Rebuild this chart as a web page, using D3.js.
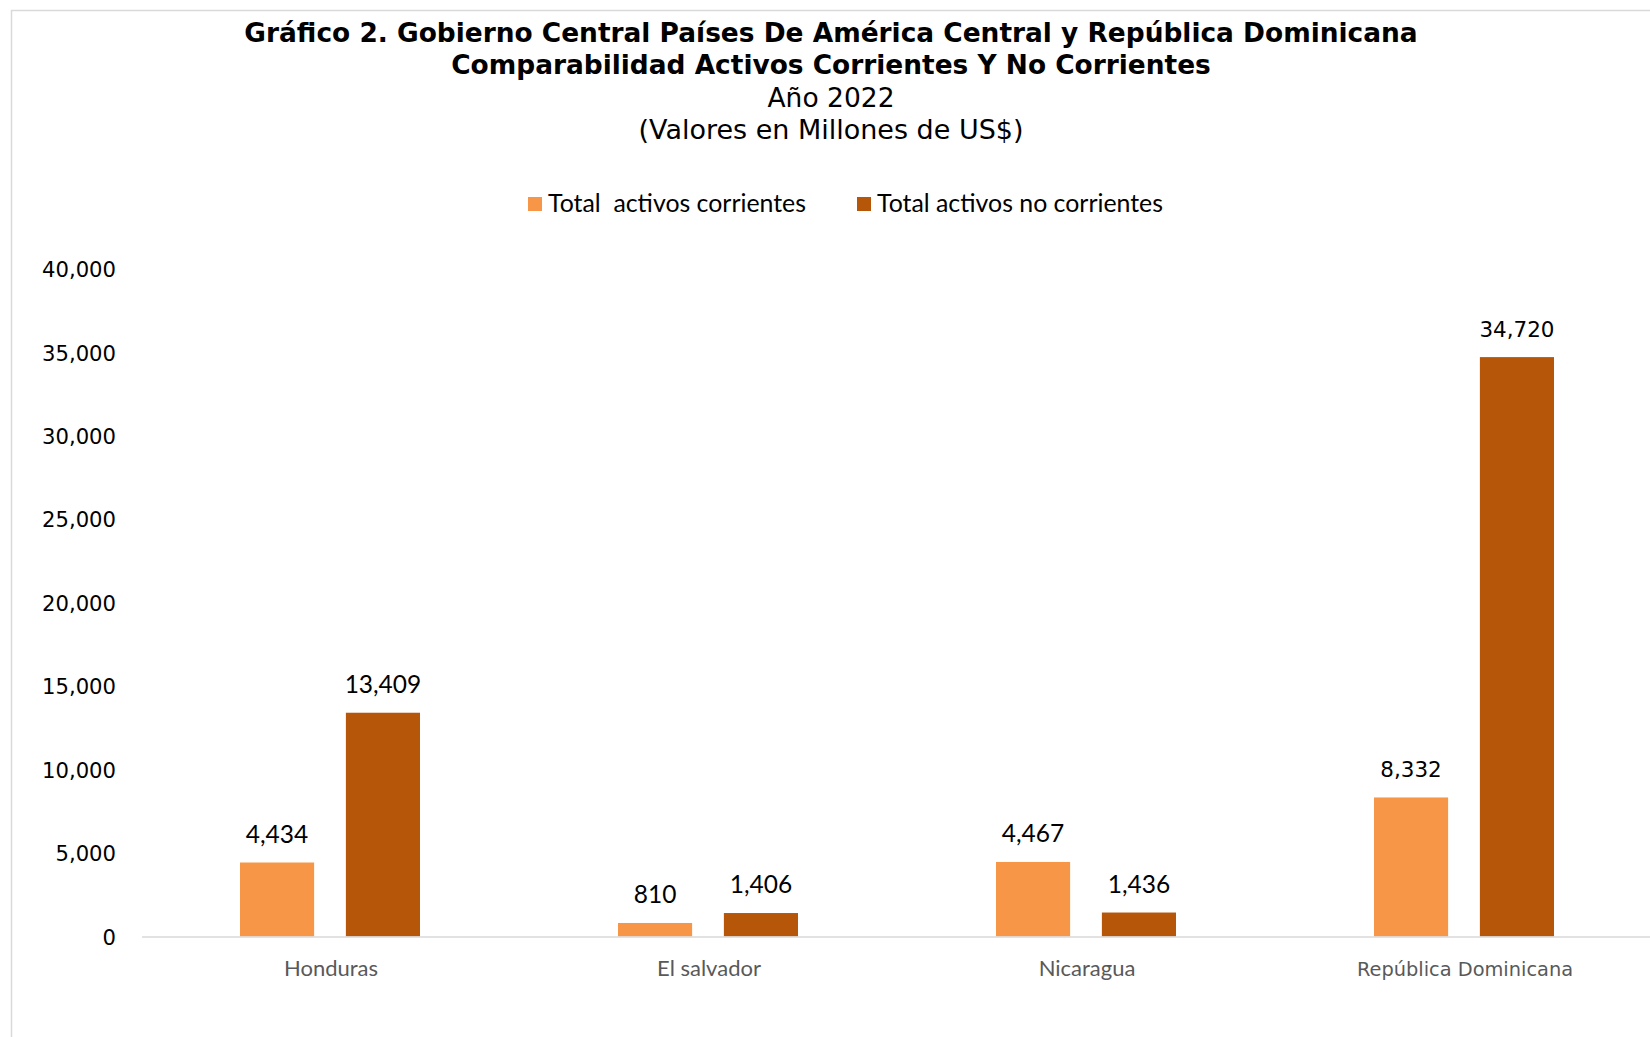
<!DOCTYPE html>
<html><head><meta charset="utf-8">
<script src="https://cdn.jsdelivr.net/npm/d3@7"></script>
<style>
html,body{margin:0;padding:0;background:#fff;}
svg text{white-space:pre;}
</style></head>
<body>
<svg id="chart" width="1650" height="1037"></svg>
<script>
const categories = ["Honduras", "El salvador", "Nicaragua", "República Dominicana"];
const seriesNames = ["Total  activos corrientes", "Total activos no corrientes"];
const corrientes = [4434, 810, 4467, 8332];
const noCorrientes = [13409, 1406, 1436, 34720];
const yTicks = [0, 5000, 10000, 15000, 20000, 25000, 30000, 35000, 40000];
const titleLines = [
  "Gráfico 2. Gobierno Central Países De América Central y República Dominicana",
  "Comparabilidad Activos Corrientes Y No Corrientes",
  "Año 2022",
  "(Valores en Millones de US$)"
];
const colors = ["#F79646", "#B55609"];

const svg = d3.select("#chart");
const W = 1650, H = 1037;

function fit(sel, target) {
  const node = sel.node();
  const s0 = +sel.attr("font-size");
  const w = node.getComputedTextLength();
  if (w > 0) sel.attr("font-size", (s0 * target / w).toFixed(2));
  return sel;
}

// chart border
svg.append("rect").attr("x", 11.5).attr("y", 10.5).attr("width", W + 20).attr("height", H + 20)
  .attr("fill", "none").attr("stroke", "#d9d9d9").attr("stroke-width", 1.5);

// titles
const tfont = "'DejaVu Sans', Verdana, sans-serif";
const tY = [41.5, 73.5, 106.5, 139];
const tW = [1174, 760, 127, 385];
titleLines.forEach((t, i) => {
  const s = svg.append("text").attr("x", 831).attr("y", tY[i]).attr("text-anchor", "middle")
    .style("font-family", tfont).attr("font-size", i < 2 ? 23 : 24)
    .attr("font-weight", i < 2 ? "bold" : "normal").attr("fill", "#000").text(t);
  fit(s, tW[i]);
});

const plot = {left: 142, right: 1654, top: 269, bottom: 936.5};
const x0 = d3.scaleBand().domain(categories).range([plot.left, plot.right]).paddingInner(0).paddingOuter(0);
const x1 = d3.scaleBand().domain([0, 1]).range([98, 278]).paddingInner(0.3).paddingOuter(0);
const y = d3.scaleLinear().domain([0, 40000]).range([plot.bottom, plot.top]);

// y axis labels
const yAxis = d3.axisLeft(y).tickValues(yTicks).tickSize(0).tickPadding(0).tickFormat(d3.format(","));
const yg = svg.append("g").attr("transform", `translate(116,0)`).call(yAxis);
yg.select(".domain").remove();
yg.attr("font-family", null).attr("font-size", null);
yg.selectAll("text").style("font-family", tfont).attr("font-size", 20).attr("fill", "#000").attr("dy", "0.36em");
const ys = yg.selectAll("text").filter(d => d === 40000);
fit(ys, 74);
const yFs = ys.attr("font-size");
yg.selectAll("text").attr("font-size", yFs);

// bars
const data = categories.map((c, i) => ({cat: c, vals: [corrientes[i], noCorrientes[i]]}));
const groups = svg.append("g").selectAll("g").data(data).join("g")
  .attr("transform", d => `translate(${x0(d.cat)},0)`);
groups.selectAll("rect").data(d => d.vals.map((v, k) => ({v, k}))).join("rect")
  .attr("x", d => x1(d.k)).attr("width", x1.bandwidth())
  .attr("y", d => y(d.v)).attr("height", d => y(0) - y(d.v))
  .attr("fill", d => colors[d.k]);

// axis line
svg.append("line").attr("x1", plot.left).attr("x2", W).attr("y1", y(0) + 0.5).attr("y2", y(0) + 0.5)
  .attr("stroke", "#d9d9d9").attr("stroke-width", 1.5);

// data labels
const lfont = "Lato, Carlito, Calibri, sans-serif";
data.forEach((d, i) => {
  const isRD = i === 3;
  d.vals.forEach((v, k) => {
    svg.append("text").attr("x", x0(d.cat) + x1(k) + x1.bandwidth() / 2).attr("y", y(v) - 20)
      .attr("text-anchor", "middle")
      .style("font-family", isRD ? tfont : lfont).attr("font-size", isRD ? +yFs + 0.3 : 24.5)
      .attr("fill", "#000").text(d3.format(",")(v));
  });
});

// x category labels
const xAxis = d3.axisBottom(x0).tickSize(0).tickPadding(0);
const xg = svg.append("g").attr("transform", `translate(0,${plot.bottom})`).call(xAxis);
xg.select(".domain").remove();
xg.attr("font-family", null).attr("font-size", null);
xg.selectAll("text").style("font-family", (d, i) => i === 3 ? tfont : lfont)
  .attr("font-size", (d, i) => i === 3 ? 18.5 : 22).attr("fill", "#595959")
  .attr("dy", "0").attr("y", 39);
fit(xg.selectAll("text").filter((d, i) => i === 3), 216);

// legend
const legX = [528, 857];
const legW = [258, 286];
seriesNames.forEach((s, i) => {
  svg.append("rect").attr("x", legX[i]).attr("y", 197).attr("width", 14).attr("height", 14).attr("fill", colors[i]);
  const t = svg.append("text").attr("x", legX[i] + 20).attr("y", 212).style("font-family", lfont)
    .attr("font-size", 23).attr("fill", "#000").text(s);
  fit(t, legW[i]);
});
</script>
</body></html>
